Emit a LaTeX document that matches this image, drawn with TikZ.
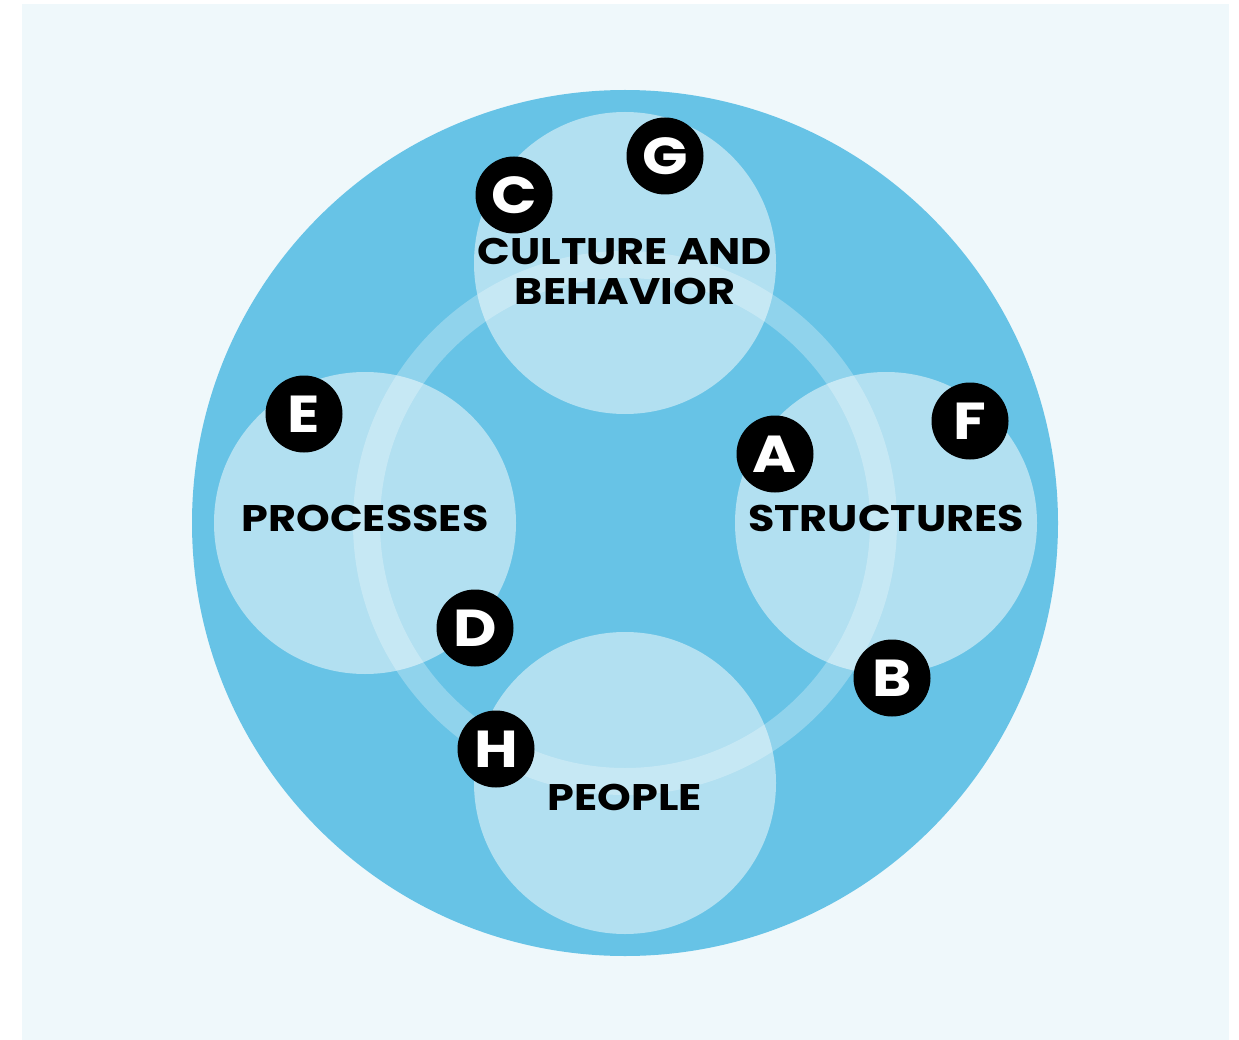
\documentclass[tikz,border=0pt]{standalone}
\usepackage{fontspec}
\newfontfamily\lblfont{Poppins Bold}[FakeStretch=1.16]
\newfontfamily\bdgfont{Poppins Bold}[FakeStretch=1.15]
\definecolor{panel}{HTML}{EFF8FB}
\definecolor{bigblue}{HTML}{67C3E6}
\definecolor{lightblue}{HTML}{B2E0F1}
\begin{document}
\begin{tikzpicture}[x=1pt,y=-1pt,
  topic/.style={circle,fill=lightblue,minimum size=302pt,inner sep=0pt},
  badge/.style={circle,fill=black,minimum size=77pt,inner sep=0pt,text=white,font=\bdgfont\fontsize{52}{52}\selectfont},
  lbl/.style={font=\lblfont\fontsize{37}{40}\selectfont,align=center,inner sep=0pt,text=black}]
\useasboundingbox (0,0) rectangle (1239,1040);
\fill[white] (0,0) rectangle (1239,1040);
\fill[panel] (22,4) rectangle (1229,1040);
\node[circle,fill=bigblue,minimum size=866pt,inner sep=0pt] (big) at (625,523) {};
\node[topic] (top) at (625,263) {};
\node[topic] (left) at (365,523) {};
\node[topic] (right) at (886,523) {};
\node[topic] (bottom) at (625,783) {};
\fill[white,opacity=0.27,even odd rule] (big.center) circle (272pt) circle (245pt);
\node[lbl] (tcult) at (625,271) {CULTURE AND\\BEHAVIOR};
\node[lbl] (tproc) at (365,518) {PROCESSES};
\node[lbl] (tstruc) at (886,518) {STRUCTURES};
\node[lbl] (tpeop) at (625,797) {PEOPLE};
\node[badge] (G) at (665,156) {G};
\node[badge] (C) at (514,195) {C};
\node[badge] (E) at (304,414) {E};
\node[badge] (F) at (970,421) {F};
\node[badge] (A) at (775,454) {A};
\node[badge] (D) at (475,628) {D};
\node[badge] (B) at (892,678) {B};
\node[badge] (H) at (496,749) {H};
\end{tikzpicture}
\end{document}
